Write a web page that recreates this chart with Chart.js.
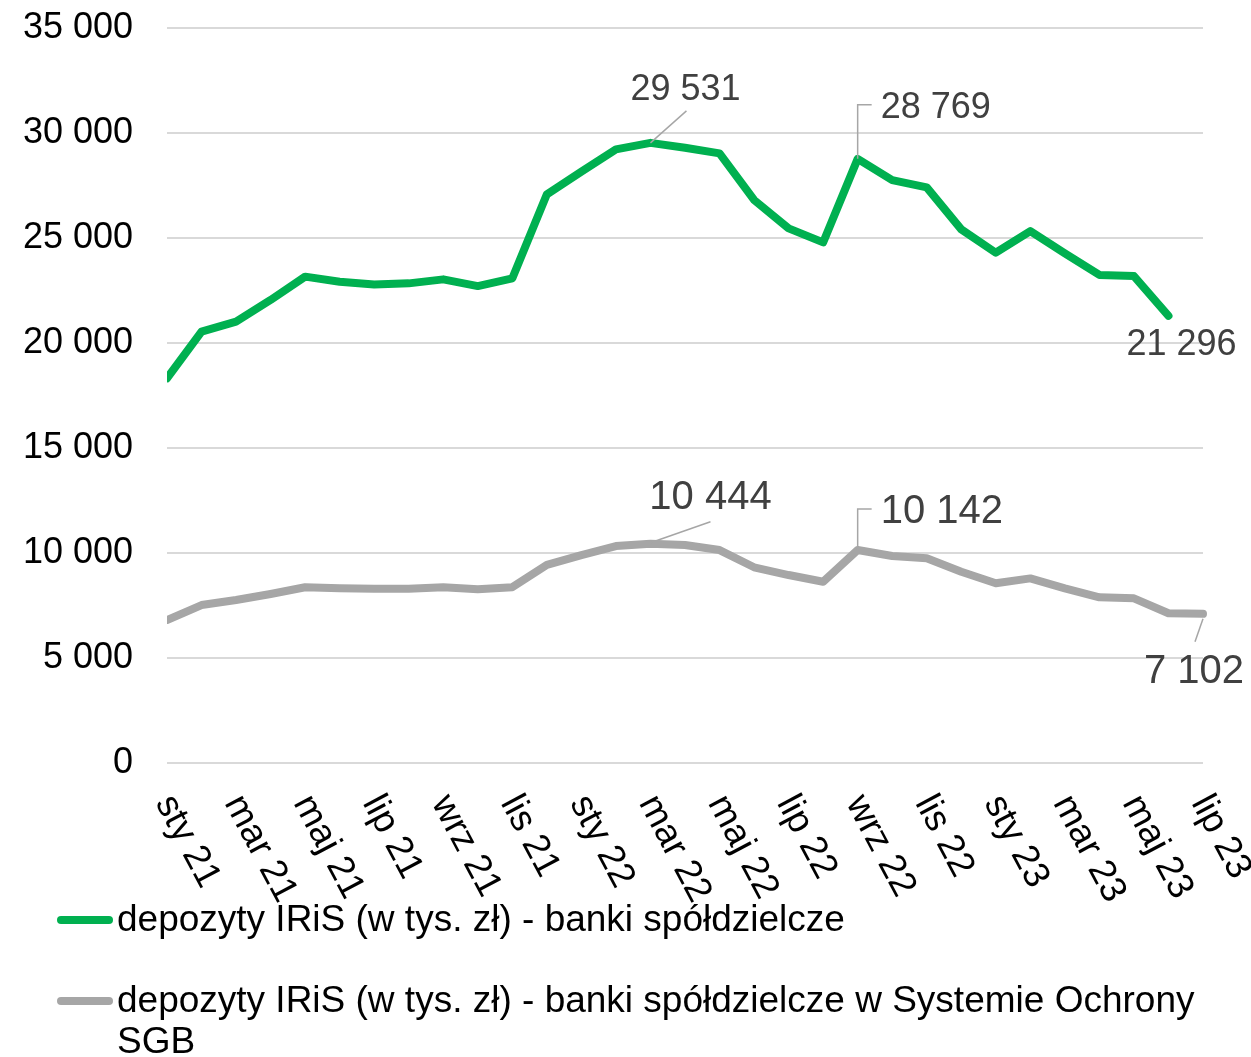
<!DOCTYPE html>
<html>
<head>
<meta charset="utf-8">
<script src="https://cdn.jsdelivr.net/npm/chart.js@4.4.0/dist/chart.umd.min.js"></script>
<style>
  html, body { margin: 0; padding: 0; background: #ffffff; }
  #wrap { position: relative; width: 1251px; height: 1057px; overflow: hidden; }
  #c { position: absolute; left: 0; top: 0; }
  .lg-line { position: absolute; left: 57px; width: 56px; height: 8px; border-radius: 4px; }
  .lg-text { position: absolute; left: 117px; width: 1120px; font-family: 'Liberation Sans', Arial, sans-serif;
             font-size: 37px; line-height: 41px; color: #000; white-space: normal; }
</style>
</head>
<body>
<div id="wrap">
  <canvas id="c" width="1251" height="1057"></canvas>
  <div class="lg-line" style="top:916px; background:#00b050;"></div>
  <div class="lg-text" id="lg1" style="top:898px;"></div>
  <div class="lg-line" style="top:997px; background:#a6a6a6;"></div>
  <div class="lg-text" id="lg2" style="top:979px;"></div>
</div>
<script>
// ---- data ----
const categories = ['sty 21','lut 21','mar 21','kwi 21','maj 21','cze 21','lip 21','sie 21','wrz 21','paź 21','lis 21','gru 21',
                    'sty 22','lut 22','mar 22','kwi 22','maj 22','cze 22','lip 22','sie 22','wrz 22','paź 22','lis 22','gru 22',
                    'sty 23','lut 23','mar 23','kwi 23','maj 23','cze 23','lip 23'];
const seriesNames = ['depozyty IRiS (w tys. zł) - banki spółdzielcze',
                     'depozyty IRiS (w tys. zł) - banki spółdzielcze w Systemie Ochrony SGB'];
const greenValues = [18320, 20540, 21020, 22050, 23160, 22920, 22790, 22840, 23030, 22710, 23080, 27080,
                     28160, 29220, 29531, 29300, 29030, 26810, 25460, 24790, 28769, 27760, 27410, 25410,
                     24300, 25330, 24270, 23240, 23190, 21296, null];
const grayValues  = [6810, 7520, 7760, 8050, 8370, 8320, 8300, 8300, 8370, 8270, 8370, 9430,
                     9900, 10330, 10444, 10380, 10140, 9320, 8950, 8630, 10142, 9860, 9750, 9110,
                     8560, 8790, 8320, 7890, 7840, 7130, 7102];
const yTicks = [0, 5000, 10000, 15000, 20000, 25000, 30000, 35000];
const labelledPoints = [[0, 14], [0, 20], [0, 29], [1, 14], [1, 20], [1, 30]];

// ---- styling ----
const FONT = "'Liberation Sans', Arial, sans-serif";
const GREEN = '#00b050';
const GRAY = '#a6a6a6';
const fmt = v => String(Math.round(v)).replace(/\B(?=(\d{3})+(?!\d))/g, ' ');

document.getElementById('lg1').textContent = seriesNames[0];
document.getElementById('lg2').textContent = seriesNames[1];

// label placement (relative to the point) per labelled point
const labelPlacement = {
  '0-14': {kind: 'diag', lead: [0, 0, 36, -32], tx: 35, ty: -56, align: 'center', size: 36},
  '0-20': {kind: 'elbow', up: -54, h: 14, tx: 23, ty: -54, align: 'left', size: 36},
  '0-29': {kind: 'none', tx: 13, ty: 26, align: 'center', size: 36},
  '1-14': {kind: 'diag', lead: [0, -1, 60, -22], tx: 60, ty: -49, align: 'center', size: 40},
  '1-20': {kind: 'elbow', up: -41, h: 14, tx: 23, ty: -41, align: 'left', size: 40},
  '1-30': {kind: 'diag', lead: [0, 5, -8, 28], tx: -9, ty: 55, align: 'center', size: 40}
};

const dataLabelPlugin = {
  id: 'dataLabels',
  afterDatasetsDraw(chart) {
    const ctx = chart.ctx;
    labelledPoints.forEach(([d, i]) => {
      const meta = chart.getDatasetMeta(d);
      const pt = meta.data[i];
      const val = chart.data.datasets[d].data[i];
      const p = labelPlacement[d + '-' + i];
      const x = pt.x, y = pt.y;
      ctx.save();
      ctx.strokeStyle = GRAY;
      ctx.lineWidth = 1.5;
      if (p.kind === 'diag') {
        ctx.beginPath();
        ctx.moveTo(x + p.lead[0], y + p.lead[1]);
        ctx.lineTo(x + p.lead[2], y + p.lead[3]);
        ctx.stroke();
      } else if (p.kind === 'elbow') {
        ctx.beginPath();
        ctx.moveTo(x, y);
        ctx.lineTo(x, y + p.up);
        ctx.lineTo(x + p.h, y + p.up);
        ctx.stroke();
      }
      ctx.fillStyle = '#404040';
      ctx.font = p.size + 'px ' + FONT;
      ctx.textAlign = p.align;
      ctx.textBaseline = 'alphabetic';
      ctx.fillText(fmt(val), x + p.tx, y + p.ty + 0.358 * p.size);
      ctx.restore();
    });
  }
};

const xLabelPlugin = {
  id: 'xLabels',
  afterDraw(chart) {
    const ctx = chart.ctx;
    const xs = chart.scales.x;
    ctx.save();
    ctx.fillStyle = '#000';
    ctx.font = '37px ' + FONT;
    ctx.textAlign = 'left';
    ctx.textBaseline = 'middle';
    categories.forEach((lab, i) => {
      if (i % 2 !== 0) return;
      const x = xs.getPixelForValue(i);
      ctx.save();
      ctx.translate(x - 3, chart.chartArea.bottom + 35);
      ctx.rotate(62 * Math.PI / 180);
      ctx.fillText(lab, 0, 0);
      ctx.restore();
    });
    ctx.restore();
  }
};

new Chart(document.getElementById('c'), {
  type: 'line',
  data: {
    labels: categories,
    datasets: [
      { label: seriesNames[0], data: greenValues, borderColor: GREEN, backgroundColor: GREEN,
        borderWidth: 8, pointRadius: 0, pointHoverRadius: 0, tension: 0, spanGaps: false,
        borderCapStyle: 'round', borderJoinStyle: 'round', clip: {left: 0, top: false, right: 5, bottom: false} },
      { label: seriesNames[1], data: grayValues, borderColor: GRAY, backgroundColor: GRAY,
        borderWidth: 8, pointRadius: 0, pointHoverRadius: 0, tension: 0,
        borderCapStyle: 'round', borderJoinStyle: 'round', clip: {left: 0, top: false, right: 5, bottom: false} }
    ]
  },
  options: {
    responsive: false,
    animation: false,
    devicePixelRatio: 1,
    layout: { padding: { top: 28, right: 48, left: 0, bottom: 0 } },
    plugins: { legend: { display: false }, tooltip: { enabled: false } },
    scales: {
      x: {
        type: 'category',
        offset: false,
        grid: { display: false },
        border: { display: false },
        ticks: { display: false },
        afterFit(s) { s.height = 294; s.paddingLeft = 0; s.paddingRight = 0; }
      },
      y: {
        min: 0, max: 35000,
        afterBuildTicks(s) { s.ticks = yTicks.map(v => ({ value: v })); },
        ticks: {
          stepSize: 5000,
          padding: 34,
          color: '#000',
          font: { family: FONT, size: 36 },
          callback: v => fmt(v)
        },
        grid: { color: '#d9d9d9', lineWidth: 2, drawTicks: false },
        border: { display: false },
        afterFit(s) { s.width = 167; s.paddingTop = 0; s.paddingBottom = 0; }
      }
    }
  },
  plugins: [dataLabelPlugin, xLabelPlugin]
});
</script>
</body>
</html>
